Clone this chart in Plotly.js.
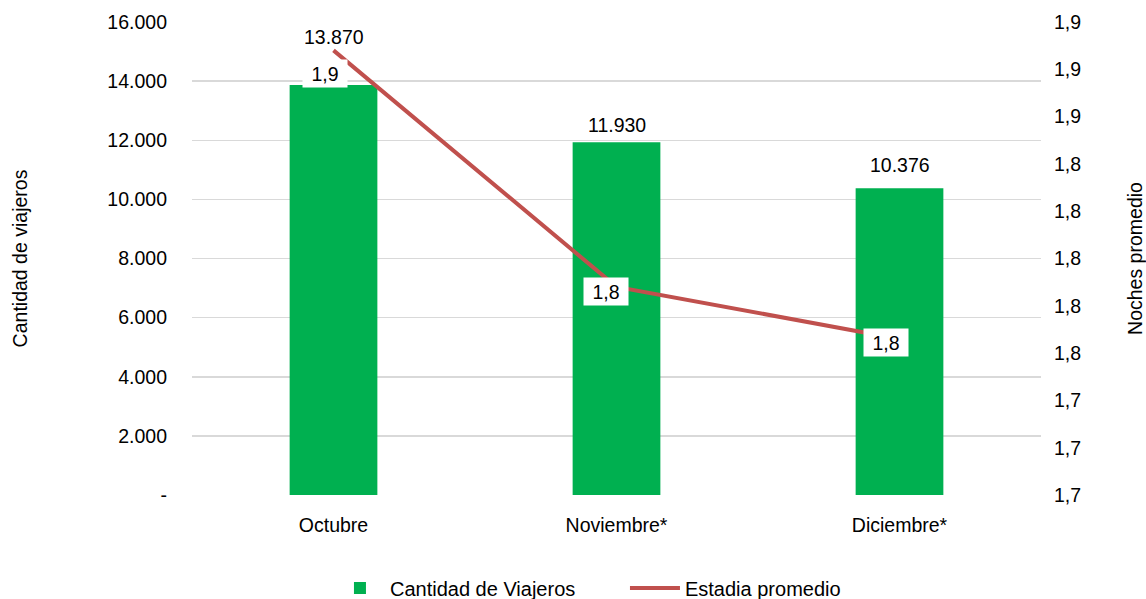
<!DOCTYPE html>
<html>
<head>
<meta charset="utf-8">
<script src="https://cdn.plot.ly/plotly-3.0.1.min.js"></script>
<style>html,body{margin:0;padding:0;background:#fff}#chart{width:1146px;height:599px}</style>
</head>
<body>
<div id="chart"></div>
<script>
const categories = ["Octubre", "Noviembre*", "Diciembre*"];
const viajeros = [13870, 11930, 10376];
const viajerosLabels = ["13.870", "11.930", "10.376"];
const estadia = [1.888, 1.788, 1.766];
const estadiaLabels = ["1,9", "1,8", "1,8"];
const leftTickVals = [0, 2000, 4000, 6000, 8000, 10000, 12000, 14000, 16000];
const leftTickText = ["-", "2.000", "4.000", "6.000", "8.000", "10.000", "12.000", "14.000", "16.000"];
const rightTickVals = [1.70, 1.72, 1.74, 1.76, 1.78, 1.80, 1.82, 1.84, 1.86, 1.88, 1.90];
const rightTickText = ["1,7", "1,7", "1,7", "1,8", "1,8", "1,8", "1,8", "1,8", "1,9", "1,9", "1,9"];

const FONT = "Liberation Sans, Arial, Helvetica, sans-serif";
const FS = 19.5;

const traces = [
  {
    type: "bar", name: "Cantidad de Viajeros", x: categories, y: viajeros,
    marker: {color: "#00B050"}, width: 0.31, yaxis: "y", hoverinfo: "none"
  },
  {
    type: "scatter", mode: "lines", name: "Estadia promedio", x: categories, y: estadia,
    line: {color: "#C0504D", width: 4}, yaxis: "y2", hoverinfo: "none"
  }
];

const annotations = [];
const barShift = [35, 4, 10];
const lineXShift = [-9, -11, -14];
const lineYShift = [-23, -5, -4];
categories.forEach((c, i) => {
  annotations.push({
    x: c, y: viajeros[i], xref: "x", yref: "y", text: viajerosLabels[i],
    showarrow: false, yanchor: "bottom", yshift: barShift[i],
    font: {family: FONT, size: FS, color: "#000"}
  });
  annotations.push({
    x: c, y: estadia[i], xref: "x", yref: "y2", text: estadiaLabels[i],
    showarrow: false, xshift: lineXShift[i], yshift: lineYShift[i], bgcolor: "#fff",
    width: 44, height: 27, borderpad: 0,
    font: {family: FONT, size: FS, color: "#000"}
  });
});

const layout = {
  width: 1146, height: 599,
  margin: {l: 192, r: 105, t: 22, b: 104, autoexpand: false},
  paper_bgcolor: "#fff", plot_bgcolor: "#fff",
  font: {family: FONT, size: FS, color: "#000"},
  showlegend: true,
  legend: {orientation: "h", x: 0.1625, xanchor: "left", xref: "paper",
           y: -0.1966, yref: "paper", yanchor: "middle", entrywidth: 230,
           font: {family: FONT, size: 20, color: "#000"}, itemwidth: 50},
  xaxis: {type: "category", showgrid: false, zeroline: false, showline: false, ticks: "",
          ticklabelstandoff: 16, tickfont: {family: FONT, size: FS}},
  yaxis: {range: [0, 16000], tickvals: leftTickVals, ticktext: leftTickText,
          showgrid: true, gridcolor: "#d9d9d9", gridwidth: 1.5, zeroline: false, showline: false,
          ticks: "", ticklabelstandoff: 24,
          title: {text: "Cantidad de viajeros", font: {family: FONT, size: FS}, standoff: 74},
          tickfont: {family: FONT, size: FS}},
  yaxis2: {range: [1.70, 1.90], overlaying: "y", side: "right", tickvals: rightTickVals,
           ticktext: rightTickText, showgrid: false, zeroline: false, showline: false, ticks: "",
           ticklabelstandoff: 12,
           title: {text: "Noches promedio", font: {family: FONT, size: FS}, standoff: 50},
           tickfont: {family: FONT, size: FS}},
  annotations: annotations
};

Plotly.newPlot("chart", traces, layout, {displayModeBar: false, staticPlot: true});
</script>
</body>
</html>
